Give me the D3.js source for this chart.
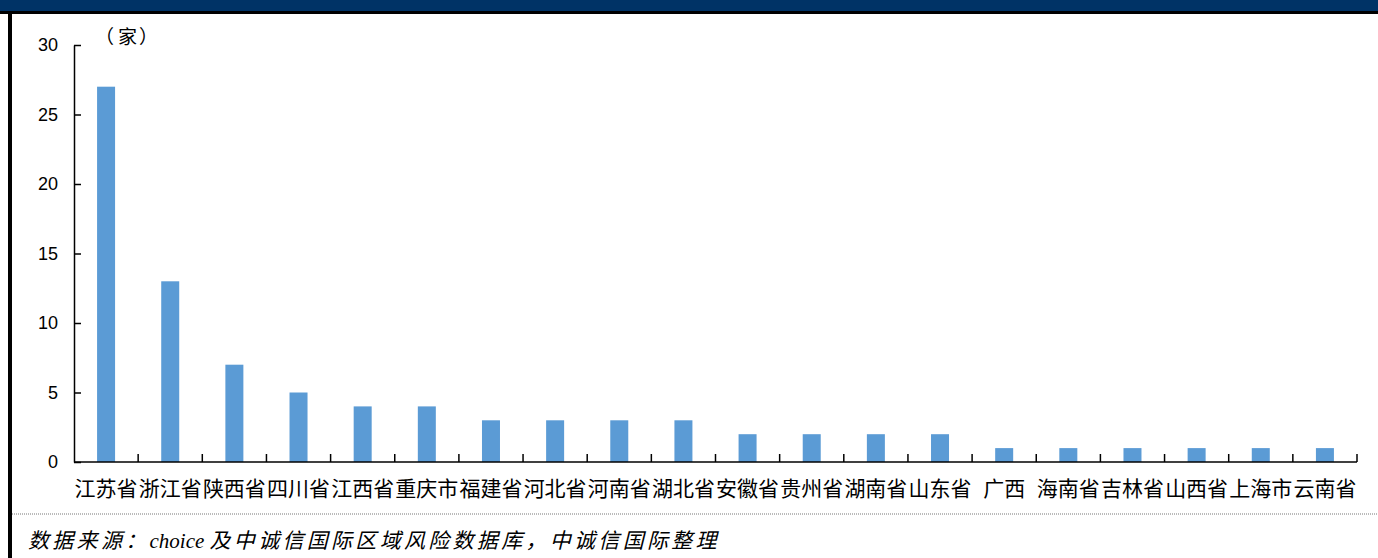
<!DOCTYPE html>
<meta charset="utf-8">
<head>
	<title>地区分布</title>
</head>
<style>
body { margin: 0; background: #fff; }
svg { display: block; }
.cat text { font-family: "Noto Sans CJK SC", sans-serif; font-size: 21px; fill: #000; }
.yax text { font-family: "Liberation Sans", Arial, sans-serif; font-size: 18px; fill: #000; }
</style>
<body>
<svg id="chart" width="1378" height="558"></svg>

<script src="https://cdnjs.cloudflare.com/ajax/libs/d3/7.8.5/d3.min.js"></script>
<script>

// 数据
var provinces = ["江苏省", "浙江省", "陕西省", "四川省", "江西省", "重庆市", "福建省", "河北省", "河南省", "湖北省",
	"安徽省", "贵州省", "湖南省", "山东省", "广西", "海南省", "吉林省", "山西省", "上海市", "云南省"];
var counts = [27, 13, 7, 5, 4, 4, 3, 3, 3, 3, 2, 2, 2, 2, 1, 1, 1, 1, 1, 1];
var yTicks = [0, 5, 10, 15, 20, 25, 30];

var svg = d3.select('#chart');

// 顶部色带 + 边框
svg.append('rect').attr('x', 0).attr('y', 0).attr('width', 1378).attr('height', 11).attr('fill', '#003366');
svg.append('rect').attr('x', 0).attr('y', 11).attr('width', 1378).attr('height', 3).attr('fill', '#000');
svg.append('rect').attr('x', 8).attr('y', 11).attr('width', 4).attr('height', 547).attr('fill', '#000');

var x = d3.scaleBand().domain(provinces).range([74, 1357]).paddingInner(0).paddingOuter(0);
var y = d3.scaleLinear().domain([0, 30]).range([462, 45]);

var barW = 18;

svg.append('g').selectAll('rect')
	.data(counts)
	.enter().append('rect')
	.attr('x', function(d, i){ return x(provinces[i]) + x.bandwidth() / 2 - barW / 2; })
	.attr('y', function(d){ return y(d); })
	.attr('width', barW)
	.attr('height', function(d){ return y(0) - y(d); })
	.attr('fill', '#5B9BD5');

// y轴（刻度向内）
var yAxis = svg.append('g').attr('class', 'yax')
	.attr('transform', 'translate(74,0)')
	.call(d3.axisLeft(y).tickValues(yTicks).tickSizeInner(-7).tickSizeOuter(0).tickPadding(16));
yAxis.select('.domain').attr('stroke', '#000').attr('stroke-width', 1.5);
yAxis.selectAll('.tick line').attr('stroke', '#000').attr('stroke-width', 1.5);

// x轴
var xAxis = svg.append('g').attr('class', 'cat')
	.attr('transform', 'translate(0,462)');
xAxis.append('line').attr('x1', 74).attr('x2', 1357).attr('y1', 0).attr('y2', 0)
	.attr('stroke', '#000').attr('stroke-width', 1.5);
var bounds = provinces.map(function(p){ return x(p); }).concat([x.range()[1]]);
xAxis.selectAll('line.tk')
	.data(bounds.slice(1))
	.enter().append('line')
	.attr('class', 'tk')
	.attr('x1', function(d){ return d; }).attr('x2', function(d){ return d; })
	.attr('y1', 0).attr('y2', -8)
	.attr('stroke', '#000').attr('stroke-width', 1.5);
xAxis.selectAll('text')
	.data(provinces)
	.enter().append('text')
	.attr('x', function(d){ return x(d) + x.bandwidth() / 2; })
	.attr('y', 34)
	.attr('text-anchor', 'middle')
	.text(function(d){ return d; });

// 单位
var unit = svg.append('text')
	.attr('y', 44)
	.style('font-family', '"Noto Sans CJK SC", sans-serif')
	.style('font-size', '19px');
unit.append('tspan').attr('x', 95).text('（');
unit.append('tspan').attr('x', 118).text('家');
unit.append('tspan').attr('x', 139).text('）');

// 虚线 + 来源
svg.append('line').attr('x1', 12).attr('x2', 1378).attr('y1', 514).attr('y2', 514)
	.attr('stroke', '#777').attr('stroke-width', 1).attr('stroke-dasharray', '1,1');

var src = svg.append('text')
	.attr('x', 28).attr('y', 548)
	.style('font-family', '"Liberation Serif", "Noto Sans CJK SC", serif')
	.style('font-style', 'italic')
	.style('font-size', '21px');
src.append('tspan').style('letter-spacing', '3.3px').text('数据来源：');
src.append('tspan').style('letter-spacing', '0px').text('choice ');
src.append('tspan').style('letter-spacing', '3.3px').text('及中诚信国际区域风险数据库，中诚信国际整理');

</script>
</body>
</html>
